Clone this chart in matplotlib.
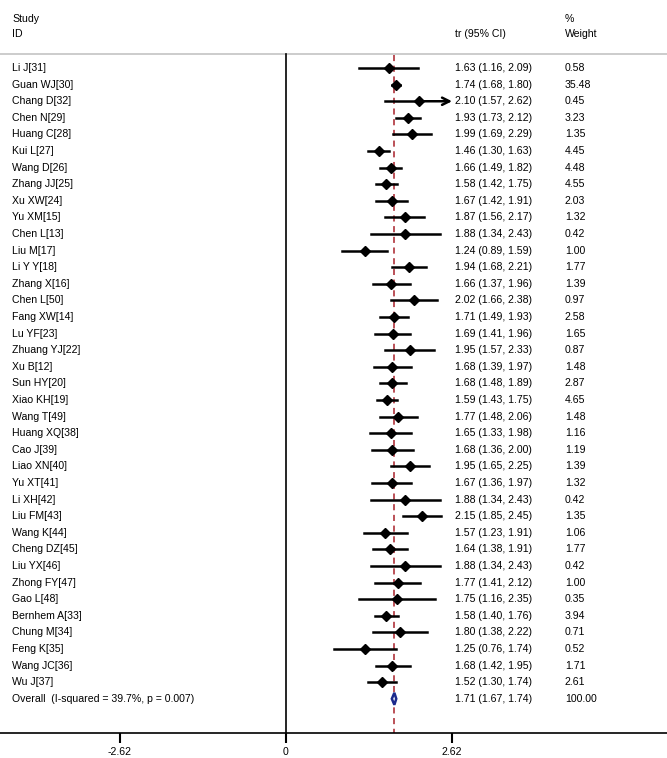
import matplotlib
matplotlib.use("Agg")
import matplotlib.pyplot as plt
from matplotlib.patches import Polygon

plt.rcParams['font.family'] = ['Liberation Sans', 'DejaVu Sans']

studies = ["Li J[31]", "Guan WJ[30]", "Chang D[32]", "Chen N[29]", "Huang C[28]",
           "Kui L[27]", "Wang D[26]", "Zhang JJ[25]", "Xu XW[24]", "Yu XM[15]",
           "Chen L[13]", "Liu M[17]", "Li Y Y[18]", "Zhang X[16]", "Chen L[50]",
           "Fang XW[14]", "Lu YF[23]", "Zhuang YJ[22]", "Xu B[12]", "Sun HY[20]",
           "Xiao KH[19]", "Wang T[49]", "Huang XQ[38]", "Cao J[39]", "Liao XN[40]",
           "Yu XT[41]", "Li XH[42]", "Liu FM[43]", "Wang K[44]", "Cheng DZ[45]",
           "Liu YX[46]", "Zhong FY[47]", "Gao L[48]", "Bernhem A[33]", "Chung M[34]",
           "Feng K[35]", "Wang JC[36]", "Wu J[37]"]
est = [1.63, 1.74, 2.10, 1.93, 1.99, 1.46, 1.66, 1.58, 1.67, 1.87,
       1.88, 1.24, 1.94, 1.66, 2.02, 1.71, 1.69, 1.95, 1.68, 1.68,
       1.59, 1.77, 1.65, 1.68, 1.95, 1.67, 1.88, 2.15, 1.57, 1.64,
       1.88, 1.77, 1.75, 1.58, 1.80, 1.25, 1.68, 1.52]
lo = [1.16, 1.68, 1.57, 1.73, 1.69, 1.30, 1.49, 1.42, 1.42, 1.56,
      1.34, 0.89, 1.68, 1.37, 1.66, 1.49, 1.41, 1.57, 1.39, 1.48,
      1.43, 1.48, 1.33, 1.36, 1.65, 1.36, 1.34, 1.85, 1.23, 1.38,
      1.34, 1.41, 1.16, 1.40, 1.38, 0.76, 1.42, 1.30]
hi = [2.09, 1.80, 2.62, 2.12, 2.29, 1.63, 1.82, 1.75, 1.91, 2.17,
      2.43, 1.59, 2.21, 1.96, 2.38, 1.93, 1.96, 2.33, 1.97, 1.89,
      1.75, 2.06, 1.98, 2.00, 2.25, 1.97, 2.43, 2.45, 1.91, 1.91,
      2.43, 2.12, 2.35, 1.76, 2.22, 1.74, 1.95, 1.74]
weight = [0.58, 35.48, 0.45, 3.23, 1.35, 4.45, 4.48, 4.55, 2.03, 1.32,
          0.42, 1.00, 1.77, 1.39, 0.97, 2.58, 1.65, 0.87, 1.48, 2.87,
          4.65, 1.48, 1.16, 1.19, 1.39, 1.32, 0.42, 1.35, 1.06, 1.77,
          0.42, 1.00, 0.35, 3.94, 0.71, 0.52, 1.71, 2.61]
overall = (1.71, 1.67, 1.74)
overall_label = "Overall  (I-squared = 39.7%, p = 0.007)"
xticks = [-2.62, 0, 2.62]

clip = 2.62
x_name, x_ci, x_w = -4.32, 2.665, 4.40
fs = 7.6

fig = plt.figure(figsize=(6.67, 7.58), dpi=100)
ax = fig.add_axes([0, 25 / 758, 1, 733 / 758])
ax.set_xlim(-4.51, 6.01)
ax.set_ylim(40.06, -4.10)

for s in ['top', 'left', 'right']:
    ax.spines[s].set_visible(False)
ax.spines['bottom'].set_linewidth(1.2)
ax.set_yticks([])
ax.set_xticks(xticks)
ax.set_xticklabels([f"{t:.2f}" if t != 0 else "0" for t in xticks], fontsize=fs)
ax.tick_params(axis='x', length=7, width=1.5, pad=3)

# header
ax.text(x_name, -2.95, "Study", fontsize=fs, va='center')
ax.text(x_name, -2.05, "ID", fontsize=fs, va='center')
ax.text(x_ci, -2.05, "tr (95% CI)", fontsize=fs, va='center')
ax.text(x_w, -2.95, "%", fontsize=fs, va='center')
ax.text(x_w, -2.05, "Weight", fontsize=fs, va='center')
ax.axhline(-0.84, color='#c8c8c8', lw=1.3)

# no-effect line and overall line
ax.plot([0, 0], [-0.84, 40.06], color='black', lw=1.2)
ax.plot([overall[0], overall[0]], [-0.80, 40.06], color='#a8202a', lw=1.1,
        dashes=(4, 3))

for i, name in enumerate(studies):
    ax.text(x_name, i, name, fontsize=fs, va='center')
    ax.text(x_ci, i, f"{est[i]:.2f} ({lo[i]:.2f}, {hi[i]:.2f})", fontsize=fs, va='center')
    ax.text(x_w, i, f"{weight[i]:.2f}", fontsize=fs, va='center')
    if hi[i] >= clip:
        ax.plot([lo[i], est[i]], [i, i], color='black', lw=1.8)
        ax.annotate("", xy=(clip, i), xytext=(est[i], i),
                    arrowprops=dict(arrowstyle='->', color='black', lw=1.8,
                                    mutation_scale=13, shrinkA=0, shrinkB=0))
    else:
        ax.plot([lo[i], hi[i]], [i, i], color='black', lw=1.8)
    ax.plot(est[i], i, marker='D', color='black', markersize=5.2)

n = len(studies)
ax.text(x_name, n, overall_label, fontsize=fs, va='center')
ax.text(x_ci, n, f"{overall[0]:.2f} ({overall[1]:.2f}, {overall[2]:.2f})", fontsize=fs, va='center')
ax.text(x_w, n, "100.00", fontsize=fs, va='center')
dia = Polygon([(overall[1], n), (overall[0], n - 0.36), (overall[2], n), (overall[0], n + 0.36)],
              closed=True, facecolor='white', edgecolor='#1c2a8c', lw=1.8, zorder=3)
ax.add_patch(dia)

fig.savefig("out.png", dpi=100)
